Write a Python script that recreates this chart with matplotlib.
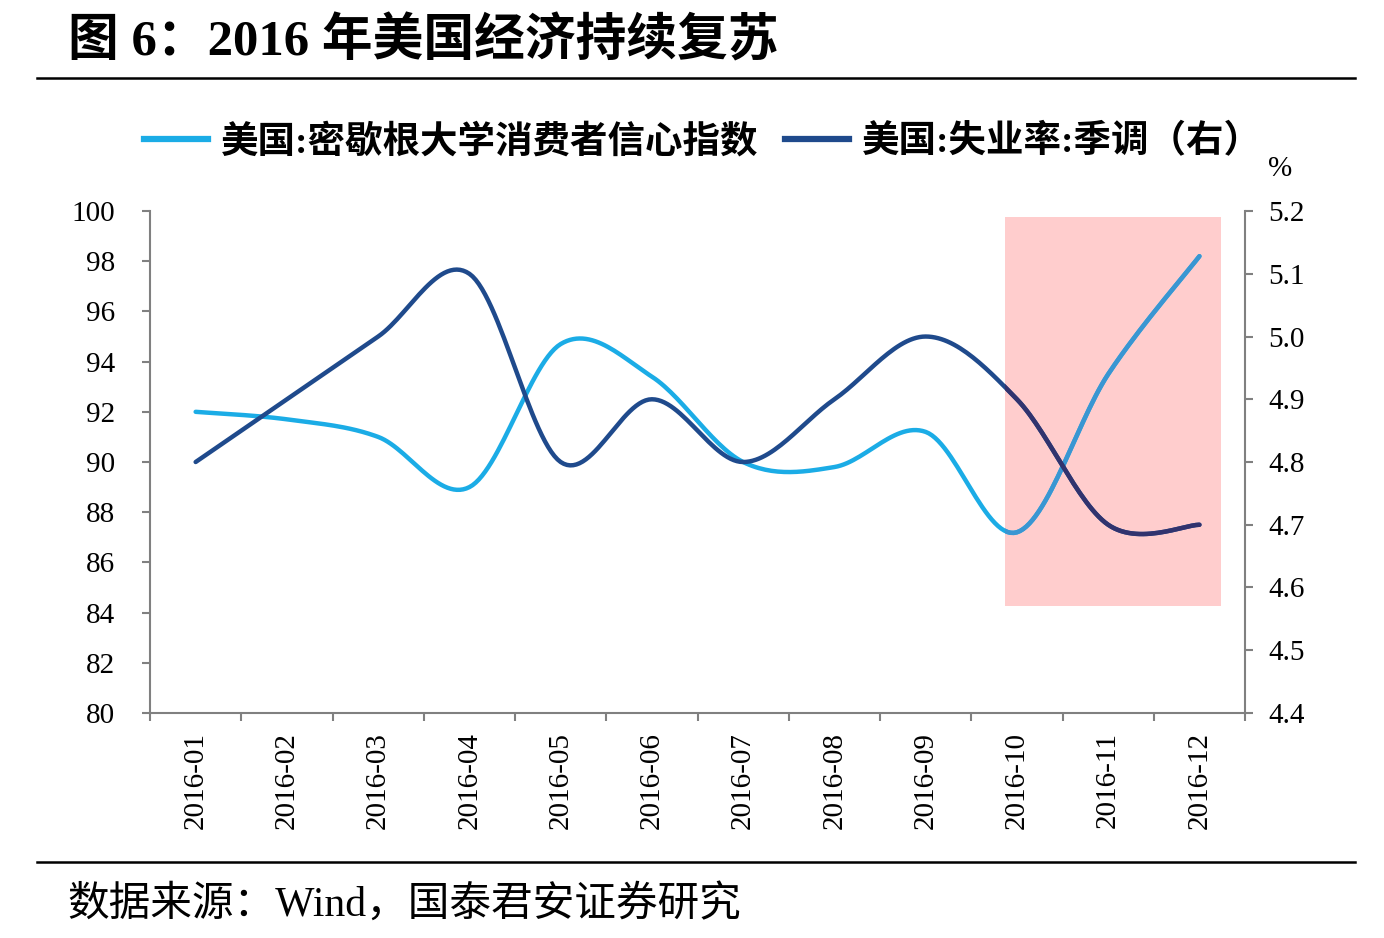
import numpy as np
import matplotlib
matplotlib.use('Agg')
import matplotlib.pyplot as plt
import matplotlib.patches as mpatches
from matplotlib.lines import Line2D

plt.rcParams['font.family'] = ['Liberation Serif', 'Noto Sans CJK SC', 'DejaVu Sans']

# Data
# ----------------------------------------------
months = ['2016-01', '2016-02', '2016-03', '2016-04', '2016-05', '2016-06',
          '2016-07', '2016-08', '2016-09', '2016-10', '2016-11', '2016-12']
sentiment = [92.0, 91.7, 91.0, 89.0, 94.7, 93.4, 90.0, 89.8, 91.2, 87.2, 93.5, 98.2]
unemployment = [4.8, 4.9, 5.0, 5.1, 4.8, 4.9, 4.8, 4.9, 5.0, 4.9, 4.7, 4.7]

label_sent = '美国:密歇根大学消费者信心指数'
label_unemp = '美国:失业率:季调（右）'

light_blue = '#1BACE6'
navy = '#1F4A8C'
# colours of the lines where they run through the shaded box
light_blue_tint = '#3A96D2'
navy_tint = '#31336E'


def smooth(x, y, n=30):
    # Excel-style smoothed line: cubic Bezier per segment, tension 1/6
    x = np.asarray(x, float)
    y = np.asarray(y, float)
    px = np.concatenate([[x[0]], x, [x[-1]]])
    py = np.concatenate([[y[0]], y, [y[-1]]])
    t = np.linspace(0, 1, n)[:, None]
    xs, ys = [], []
    for i in range(1, len(x)):
        p0 = np.array([px[i], py[i]])
        p3 = np.array([px[i + 1], py[i + 1]])
        c1 = p0 + (np.array([px[i + 1], py[i + 1]]) - np.array([px[i - 1], py[i - 1]])) / 6
        c2 = p3 - (np.array([px[i + 2], py[i + 2]]) - np.array([px[i], py[i]])) / 6
        b = ((1 - t) ** 3) * p0 + 3 * ((1 - t) ** 2) * t * c1 + 3 * (1 - t) * t ** 2 * c2 + t ** 3 * p3
        xs.append(b[:, 0])
        ys.append(b[:, 1])
    return np.concatenate(xs), np.concatenate(ys)


idx = np.arange(len(months))

fig = plt.figure(figsize=(13.84, 9.38), dpi=100)
ax = fig.add_axes([0.1084, 0.2399, 0.7912, 0.5351])
ax2 = ax.twinx()

# highlighted region, behind the lines
box = mpatches.Rectangle((8.87, 84.26), 2.37, 15.5, facecolor='#FFCDCD',
                         edgecolor='none', zorder=1)
ax.add_patch(box)

sx, sy = smooth(idx, sentiment)
ax.plot(sx, sy, color=light_blue, lw=3.2, solid_capstyle='round', zorder=2)
l1, = ax.plot(sx, sy, color=light_blue_tint, lw=3.2, solid_capstyle='round', zorder=3)
l1.set_clip_path(box)

ux, uy = smooth(idx, unemployment)
ax2.plot(ux, uy, color=navy, lw=3.2, solid_capstyle='round', zorder=2)
box2 = mpatches.Rectangle((8.87, 84.26), 2.37, 15.5, transform=ax.transData,
                          facecolor='none', edgecolor='none')
l2, = ax2.plot(ux, uy, color=navy_tint, lw=3.2, solid_capstyle='round', zorder=3)
l2.set_clip_path(box2)

ax.set_xlim(-0.5, 11.5)
ax.set_ylim(80, 100)
ax2.set_ylim(4.4, 5.2)
ax.set_yticks(np.arange(80, 101, 2))
ax2.set_yticks(np.arange(4.4, 5.21, 0.1))
ax2.set_yticklabels(['%.1f' % v for v in np.arange(4.4, 5.21, 0.1)])

ax.set_xticks(np.arange(-0.5, 12, 1))
ax.set_xticklabels([])
ax.set_xticks(idx, minor=True)
ax.set_xticklabels(months, minor=True, rotation=90)
ax.tick_params(axis='x', which='minor', length=0, pad=14)

spine_c = '#808080'
for a in (ax, ax2):
    a.spines['top'].set_visible(False)
    for s in ('left', 'right', 'bottom'):
        a.spines[s].set_color(spine_c)
        a.spines[s].set_linewidth(1.5)
    a.tick_params(which='major', direction='out', length=6, width=1.5, color=spine_c,
                  labelsize=21, pad=6)
    a.tick_params(which='minor', labelsize=21)
ax.tick_params(axis='y', pad=19)
ax2.tick_params(axis='y', pad=11)
ax.spines['right'].set_visible(False)
ax2.spines['left'].set_visible(False)
ax2.spines['bottom'].set_visible(False)

fig.text(0.925, 0.82, '%', fontsize=21, ha='center', va='center')

# legend
handles = [Line2D([], [], color=light_blue, lw=4.5),
           Line2D([], [], color=navy, lw=4.5)]
fig.legend(handles, [label_sent, label_unemp], loc='center', ncol=2,
           bbox_to_anchor=(0.508, 0.848), frameon=False,
           prop={'size': 27, 'weight': 'bold'}, handlelength=1.7,
           handletextpad=0.35, columnspacing=0.7)

# title, rules, source
fig.text(0.049, 0.955, '图 6：2016 年美国经济持续复苏', fontsize=36.5, fontweight='bold',
         ha='left', va='center')
fig.add_artist(Line2D([0.027, 0.979], [0.917, 0.917], color='black', lw=1.8))
fig.add_artist(Line2D([0.027, 0.979], [0.081, 0.081], color='black', lw=1.8))
fig.text(0.049, 0.035, '数据来源：Wind，国泰君安证券研究', fontsize=30,
         ha='left', va='center')

fig.savefig('out.png', dpi=100)
